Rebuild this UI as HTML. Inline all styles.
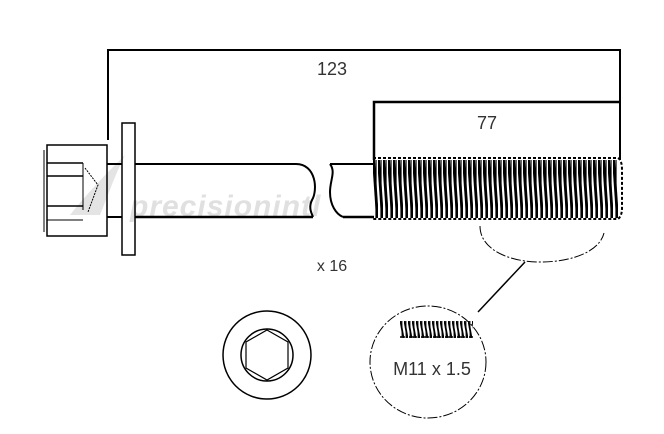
<!DOCTYPE html>
<html><head><meta charset="utf-8"><style>
html,body{margin:0;padding:0;background:#fff;width:664px;height:434px;overflow:hidden}
svg{display:block}
text{font-family:"Liberation Sans",sans-serif;fill:#333}
</style></head><body>
<svg width="664" height="434" viewBox="0 0 664 434" xmlns="http://www.w3.org/2000/svg">
<defs>
<pattern id="thr" x="373" y="0" width="5" height="434" patternUnits="userSpaceOnUse">
<line x1="0.5" y1="160" x2="4.5" y2="218" stroke="#000" stroke-width="2.8"/>
<line x1="3" y1="160" x2="3" y2="218" stroke="#000" stroke-width="1.2"/>
</pattern>
<pattern id="thr2" x="400" y="0" width="4" height="434" patternUnits="userSpaceOnUse">
<line x1="0.5" y1="321" x2="3.5" y2="338" stroke="#000" stroke-width="1.8"/>
<line x1="2" y1="321" x2="2" y2="338" stroke="#000" stroke-width="0.8"/>
</pattern>
</defs>
<!-- watermark -->
<path d="M70,215 C90,190 110,170 125,155 C115,175 108,195 100,215 Z" fill="#e4e4e4"/>
<text x="130" y="216" font-size="30" font-style="italic" font-weight="bold" style="fill:#e0e0e0" letter-spacing="1">precisionintl</text>
<g fill="none" stroke="#000">
<polyline points="108,140 108,50 620,50 620,160" stroke-width="2"/>
<polyline points="374,160 374,102 620,102" stroke-width="2.5"/>
<rect x="47" y="145" width="60" height="91" stroke-width="1.5"/>
<line x1="44" y1="150" x2="44" y2="232" stroke-width="1"/>
<line x1="47" y1="163" x2="83" y2="163" stroke-width="1.5"/>
<line x1="47" y1="176" x2="83" y2="176" stroke-width="1.5"/>
<line x1="47" y1="206" x2="83" y2="206" stroke-width="1.5"/>
<line x1="47" y1="220" x2="83" y2="220" stroke-width="1"/>
<line x1="83" y1="163" x2="83" y2="210" stroke-width="1"/>
<path d="M85,168 L98,185 L88,212" stroke-width="1" stroke-dasharray="2,1"/>
<rect x="122" y="123" width="13" height="132" stroke-width="1.5"/>
<line x1="107" y1="164" x2="122" y2="164" stroke-width="2"/>
<line x1="107" y1="217" x2="122" y2="217" stroke-width="2"/>
<line x1="135" y1="164" x2="296" y2="164" stroke-width="2"/>
<line x1="135" y1="217" x2="313" y2="217" stroke-width="2.5"/>
<path d="M296,164 C316,164 318,190 312,200 C308,208 312,214 313,217" stroke-width="2"/>
<line x1="330" y1="164" x2="374" y2="164" stroke-width="2"/>
<line x1="343" y1="217" x2="374" y2="217" stroke-width="2.5"/>
<path d="M330,164 C336,172 330,180 330,192 C330,205 336,214 343,217" stroke-width="2"/>
</g>
<rect x="373" y="160" width="245" height="58" fill="url(#thr)"/>
<path d="M373,158 L618,158 Q622,160 622,170 L622,208 Q622,216 618,219 L373,219" fill="none" stroke="#000" stroke-width="2" stroke-dasharray="3,2"/>
<path d="M480,226 C480,250 510,262 540,262 C575,262 600,250 604,233" fill="none" stroke="#000" stroke-width="1" stroke-dasharray="10,2,2,2"/>
<line x1="525" y1="262" x2="478" y2="312" stroke="#000" stroke-width="1.5"/>
<ellipse cx="428" cy="362" rx="58" ry="56" fill="none" stroke="#000" stroke-width="1" stroke-dasharray="10,2,2,2"/>
<rect x="400" y="321" width="73" height="17" fill="url(#thr2)"/>
<line x1="400" y1="337" x2="473" y2="337" stroke="#000" stroke-width="1.5" stroke-dasharray="2,1"/>
<circle cx="267" cy="355" r="44" fill="none" stroke="#000" stroke-width="1.5"/>
<circle cx="267" cy="355" r="26" fill="none" stroke="#000" stroke-width="1.5"/>
<polygon points="267,330 288,342 288,368 267,380 246,368 246,342" fill="none" stroke="#000" stroke-width="1.2"/>
<text x="332" y="75" font-size="18" text-anchor="middle">123</text>
<text x="487" y="129" font-size="18" text-anchor="middle">77</text>
<text x="332" y="271" font-size="16" text-anchor="middle">x 16</text>
<text x="432" y="375" font-size="18" text-anchor="middle">M11 x 1.5</text>
</svg>
</body></html>
